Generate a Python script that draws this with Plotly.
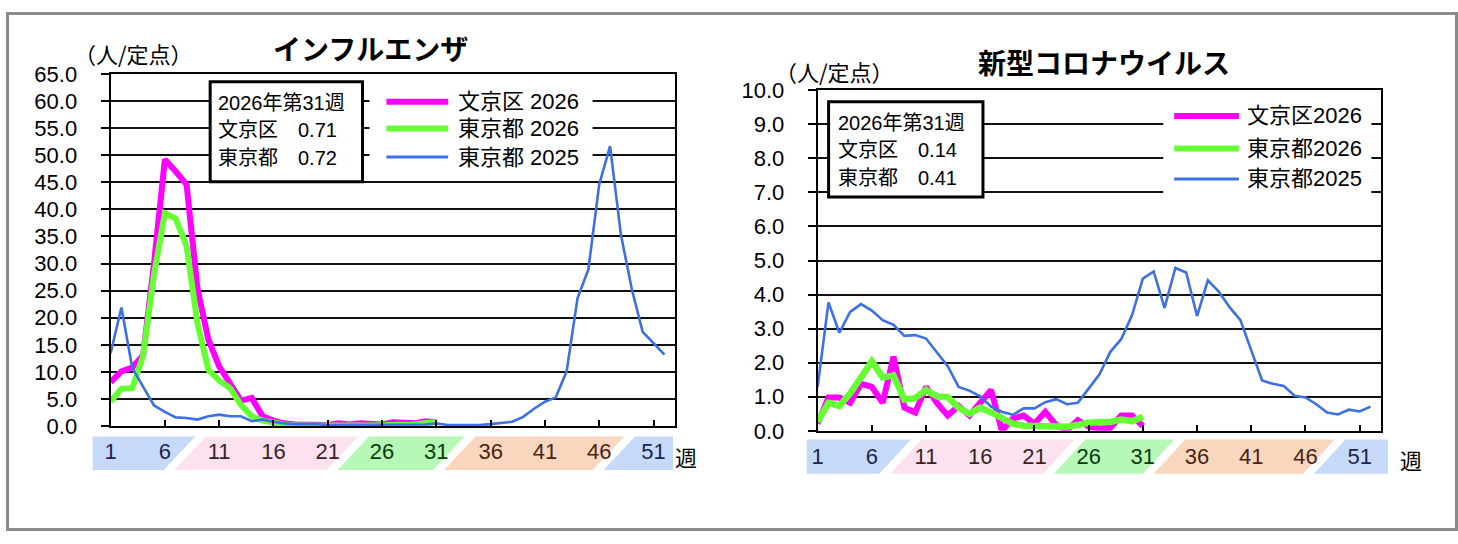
import plotly.graph_objects as go

W, H = 1458, 544

# ---------------- data ----------------
weeks_2026 = list(range(1, 32))
weeks_2025 = list(range(1, 53))

flu_bunkyo_2026 = [8.1, 10.1, 10.8, 13.1, 30.0, 49.2, 47.0, 44.6, 25.4, 16.0,
                   11.0, 8.0, 4.7, 5.2, 1.8, 1.0, 0.5, 0.3, 0.3, 0.3,
                   0.2, 0.5, 0.3, 0.5, 0.3, 0.3, 0.7, 0.6, 0.5, 0.9, 0.71]
flu_tokyo_2026 = [4.5, 6.9, 7.0, 13.0, 28.0, 39.3, 38.3, 33.2, 19.0, 10.4,
                  8.4, 7.0, 3.9, 1.8, 1.0, 0.6, 0.3, 0.15, 0.1, 0.1,
                  0.1, 0.1, 0.1, 0.1, 0.1, 0.1, 0.15, 0.2, 0.3, 0.55, 0.72]
flu_tokyo_2025 = [13.4, 21.9, 10.7, 7.2, 3.8, 2.6, 1.6, 1.5, 1.2, 1.8,
                  2.1, 1.8, 1.8, 0.9, 1.2, 0.8, 0.5, 0.35, 0.35, 0.35,
                  0.2, 0.2, 0.2, 0.2, 0.2, 0.2, 0.2, 0.2, 0.2, 0.3,
                  0.5, 0.2, 0.2, 0.2, 0.2, 0.35, 0.6, 0.8, 1.7, 3.2,
                  4.5, 5.3, 10.1, 23.6, 28.9, 44.6, 51.7, 35.3, 25.3, 17.4,
                  15.3, 13.2]

cov_bunkyo_2026 = [0.21, 0.98, 0.98, 0.82, 1.38, 1.29, 0.82, 2.18, 0.68, 0.54,
                   1.29, 0.82, 0.45, 0.73, 0.45, 0.82, 1.20, 0.0, 0.36, 0.45,
                   0.21, 0.56, 0.17, 0.03, 0.31, 0.12, 0.07, 0.09, 0.45, 0.45, 0.14]
cov_tokyo_2026 = [0.26, 0.82, 0.73, 1.10, 1.57, 2.04, 1.57, 1.62, 0.92, 0.96,
                  1.20, 1.01, 0.99, 0.68, 0.50, 0.68, 0.54, 0.36, 0.21, 0.15,
                  0.15, 0.14, 0.12, 0.12, 0.17, 0.24, 0.26, 0.26, 0.33, 0.28, 0.41]
cov_tokyo_2025 = [1.29, 3.77, 2.88, 3.49, 3.72, 3.53, 3.25, 3.11, 2.79, 2.81,
                  2.71, 2.32, 1.90, 1.29, 1.18, 1.01, 0.71, 0.56, 0.47, 0.66,
                  0.66, 0.84, 0.93, 0.78, 0.82, 1.24, 1.66, 2.32, 2.69, 3.39,
                  4.47, 4.68, 3.61, 4.78, 4.65, 3.37, 4.42, 4.09, 3.63, 3.25,
                  2.36, 1.48, 1.38, 1.32, 1.03, 0.98, 0.78, 0.54, 0.48, 0.62,
                  0.57, 0.71]

series_names_flu = ["文京区 2026", "東京都 2026", "東京都 2025"]
series_names_cov = ["文京区2026", "東京都2026", "東京都2025"]
info_flu = ["2026年第31週", "文京区　0.71", "東京都　0.72"]
info_cov = ["2026年第31週", "文京区　0.14", "東京都　0.41"]

tick_weeks = [1, 6, 11, 16, 21, 26, 31, 36, 41, 46, 51]
tick_colors = ["#1c2453", "#1c2453", "#3d1f1f", "#3d1f1f", "#3d1f1f",
               "#0b3b0b", "#0b3b0b", "#4a2511", "#4a2511", "#4a2511", "#1c2453"]

# ---------------- styles ----------------
MAGENTA = "#ff00ff"
GREEN = "#66ff33"
BLUE = "#3d6fe6"
series_colors = [MAGENTA, GREEN, BLUE]
series_widths = [6, 6, 2.6]
band_colors = ["#c6d9f9", "#fde1ef", "#b6f8b6", "#fbd6be", "#c6d9f9"]
FONT = "Liberation Sans, Noto Sans CJK JP, sans-serif"
JFONT = "Noto Sans CJK JP, sans-serif"
X_RANGE = [1, 53]


def px(x):
    return x / W


def py(y):
    return 1 - y / H


fig = go.Figure()

for xs, ys, c, w in [(weeks_2026, flu_bunkyo_2026, MAGENTA, 6),
                     (weeks_2026, flu_tokyo_2026, GREEN, 6),
                     (weeks_2025, flu_tokyo_2025, BLUE, 2.6)]:
    fig.add_trace(go.Scatter(x=xs, y=ys, mode="lines", line=dict(color=c, width=w),
                             xaxis="x", yaxis="y", showlegend=False, hoverinfo="skip"))
for xs, ys, c, w in [(weeks_2026, cov_bunkyo_2026, MAGENTA, 6),
                     (weeks_2026, cov_tokyo_2026, GREEN, 6.5),
                     (weeks_2025, cov_tokyo_2025, BLUE, 2.6)]:
    fig.add_trace(go.Scatter(x=xs, y=ys, mode="lines", line=dict(color=c, width=w),
                             xaxis="x2", yaxis="y2", showlegend=False, hoverinfo="skip"))

ticktext = ['<span style="color:%s">%d</span>' % (c, t) for t, c in zip(tick_weeks, tick_colors)]

xcommon = dict(range=X_RANGE, tickvals=tick_weeks, ticktext=ticktext, ticks="inside",
               ticklen=6, tickwidth=2, tickcolor="#000", showline=True, linecolor="#000",
               linewidth=2, mirror=True, showgrid=False, zeroline=False,
               tickfont=dict(family=FONT, size=22), ticklabelstandoff=5, fixedrange=True)
ycommon = dict(ticks="outside", ticklen=8, tickwidth=2, tickcolor="#000", showline=True,
               linecolor="#000", linewidth=2, mirror=True, showgrid=True, gridcolor="#111",
               gridwidth=1.8, zeroline=False, tickformat=".1f",
               tickfont=dict(family=FONT, size=22, color="#000"), ticklabelstandoff=19,
               fixedrange=True)

fig.update_layout(
    autosize=True, margin=dict(l=0, r=0, t=0, b=0),
    paper_bgcolor="white", plot_bgcolor="white", showlegend=False,
    xaxis=dict(domain=[px(105), px(672)], anchor="y", **xcommon),
    yaxis=dict(domain=[py(434), py(65)], anchor="x", range=[0, 65], dtick=5, **ycommon),
    xaxis2=dict(domain=[px(815), px(1381)], anchor="y2", **xcommon),
    yaxis2=dict(domain=[py(439), py(82)], anchor="x2", range=[0, 10], dtick=1, **ycommon),
)

shapes = []
annotations = []

shapes.append(dict(type="rect", xref="paper", yref="paper", x0=px(1.5), x1=px(1456.5),
                   y0=py(542.5), y1=py(1.5), line=dict(color="#8a8a8a", width=3)))


def wk(w):
    # week position as a fraction of the x-axis domain (not clipped to the plot area)
    return (w - X_RANGE[0]) / (X_RANGE[1] - X_RANGE[0])


def add_band(xref, start, end, bounds, ytop, ybot, slant=2.9, gap=1.0):
    edges_b = [start] + list(bounds) + [end]
    for i in range(len(edges_b) - 1):
        if i == 0:
            bl, tl = start, start
        else:
            bl = edges_b[i] + gap / 2
            tl = bl + slant
        if i == len(edges_b) - 2:
            br, tr = end, end
        else:
            br = edges_b[i + 1] - gap / 2
            tr = br + slant
        path = "M %f,%f L %f,%f L %f,%f L %f,%f Z" % (wk(bl), py(ybot), wk(br), py(ybot),
                                                      wk(tr), py(ytop), wk(tl), py(ytop))
        shapes.append(dict(type="path", xref=xref, yref="paper", path=path,
                           fillcolor=band_colors[i], line=dict(width=0), layer="below"))


add_band("x domain", -0.65, 52.8, [6.4, 21.4, 31.2, 45.9], 445, 480)
add_band("x2 domain", 0.0, 53.6, [7.2, 22.3, 31.5, 46.3], 448, 484)


def text(x, y, s, size, xanchor="left", bold=False, family=JFONT, color="#000"):
    annotations.append(dict(xref="paper", yref="paper", x=px(x), y=py(y),
                            text=("<b>%s</b>" % s) if bold else s,
                            showarrow=False, xanchor=xanchor, yanchor="middle",
                            font=dict(family=family, size=size, color=color)))


text(366, 38, "インフルエンザ", 28, xanchor="center", bold=True)
text(1103, 52, "新型コロナウイルス", 28, xanchor="center", bold=True)
text(66, 43, "（人/定点）", 22)
text(770, 62, "（人/定点）", 22)
text(670, 465, "週", 22)
text(1398, 469, "週", 22)


def info_box(x0, y0, x1, y1, lines, tx, tys):
    shapes.append(dict(type="rect", xref="paper", yref="paper", x0=px(x0), x1=px(x1), y0=py(y1), y1=py(y0),
                       fillcolor="white", line=dict(color="#000", width=3), layer="above"))
    for s, ty in zip(lines, tys):
        text(tx, ty, s, 20, family=FONT)


info_box(205, 73, 358, 178, info_flu, 211, [95, 124, 153])
info_box(826, 94, 981, 194, info_cov, 833, [116, 145, 174])


def legend(bx0, by0, bx1, by1, lx0, lx1, tx, rows, names):
    shapes.append(dict(type="rect", xref="paper", yref="paper", x0=px(bx0), x1=px(bx1), y0=py(by1), y1=py(by0),
                       fillcolor="white", line=dict(width=0), layer="above"))
    for r, n, c, w in zip(rows, names, series_colors, series_widths):
        shapes.append(dict(type="line", xref="paper", yref="paper", x0=px(lx0), x1=px(lx1), y0=py(r), y1=py(r),
                           line=dict(color=c, width=w if w > 3 else 3), layer="above"))
        text(tx, r, n, 22, family=FONT)


legend(365, 74, 589, 168, 382, 444, 452, [94, 122, 152], series_names_flu)
legend(1162, 92, 1371, 192, 1173, 1238, 1244, [109, 143, 175], series_names_cov)

fig.update_layout(shapes=shapes, annotations=annotations)
post = ("document.documentElement.style.height='100%';document.documentElement.style.margin='0';"
        "document.body.style.height='100%';document.body.style.margin='0';document.body.style.overflow='hidden';"
        "var gd=document.getElementById('{plot_id}');gd.style.width='100vw';gd.style.height='100vh';"
        "Plotly.Plots.resize(gd);")
fig.write_html("out.html", config={"displayModeBar": False, "responsive": True},
               default_width="100vw", default_height="100vh", post_script=post)
